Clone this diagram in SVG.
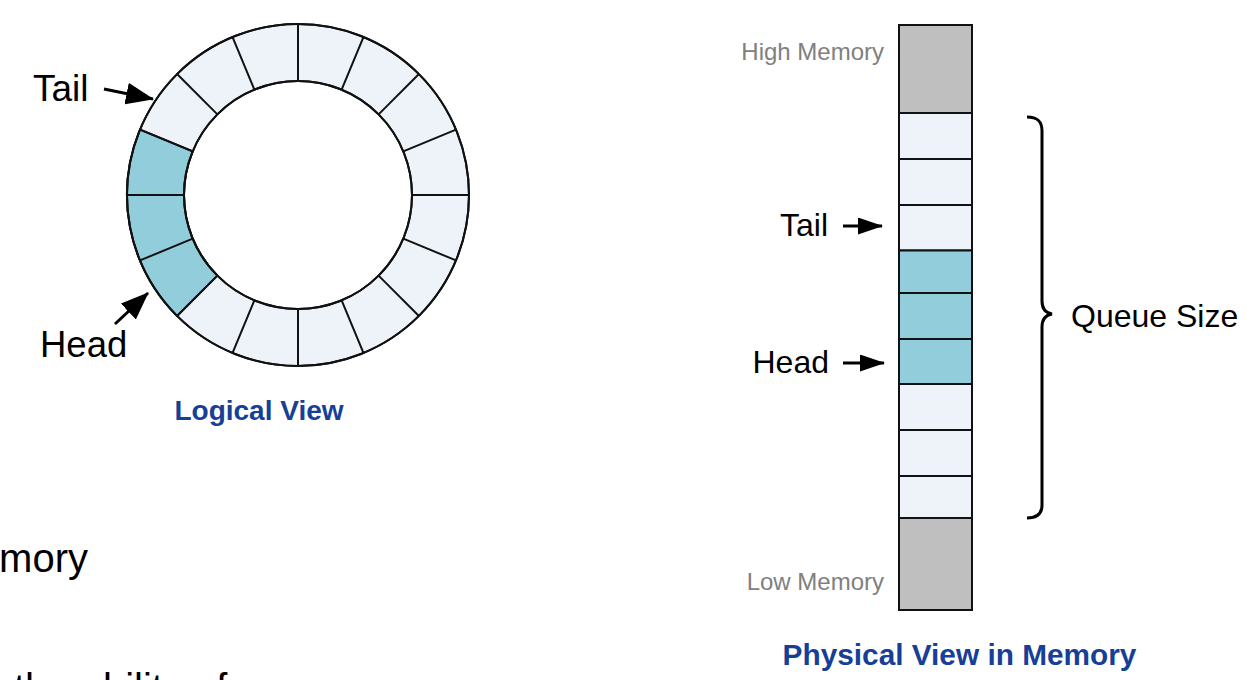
<svg xmlns="http://www.w3.org/2000/svg" width="1247" height="680" viewBox="0 0 1247 680">
<style>
  .lbl{font-family:"Liberation Sans",Arial,sans-serif;fill:#000}
  .mem{font-family:"Liberation Sans",Arial,sans-serif;fill:#808080;font-size:24px}
  .title{font-family:"Liberation Sans",Arial,sans-serif;fill:#173F97;font-weight:bold}
  .body{font-family:"Liberation Sans",Arial,sans-serif;fill:#000;font-size:40px}
  .light{fill:#EEF3FA;stroke:#111;stroke-width:2}
  .teal{fill:#92CDDC;stroke:#111;stroke-width:2}
  .grey{fill:#BFBFBF;stroke:#111;stroke-width:2}
  .div{stroke:#111;stroke-width:2;fill:none}
  .arr{stroke:#000;stroke-width:3;fill:none}
</style>
<defs>
  <marker id="ahBig" markerUnits="userSpaceOnUse" markerWidth="28" markerHeight="22" refX="27" refY="11" orient="auto">
    <path d="M0,0 L28,11 L0,22 Z" fill="#000"/>
  </marker>
  <marker id="ahSmall" markerUnits="userSpaceOnUse" markerWidth="25" markerHeight="17" refX="24" refY="8.5" orient="auto">
    <path d="M0,0 L25,8.5 L0,17 Z" fill="#000"/>
  </marker>
</defs>

<g id="ring">
  <path class="light" fill-rule="evenodd" d="M127,195 a171,171 0 1,0 342,0 a171,171 0 1,0 -342,0 Z M184,195 a114,114 0 1,0 228,0 a114,114 0 1,0 -228,0 Z"/>
  <path class="teal" d="M140.02,129.56 A171,171 0 0 0 177.08,315.92 L217.39,275.61 A114,114 0 0 1 192.68,151.37 Z"/>
  <g class="div">
    <line x1="412" y1="195" x2="469" y2="195"/>
    <line x1="403.32" y1="151.37" x2="455.98" y2="129.56"/>
    <line x1="378.61" y1="114.39" x2="418.92" y2="74.08"/>
    <line x1="341.63" y1="89.68" x2="363.44" y2="37.02"/>
    <line x1="298" y1="81" x2="298" y2="24"/>
    <line x1="254.37" y1="89.68" x2="232.56" y2="37.02"/>
    <line x1="217.39" y1="114.39" x2="177.08" y2="74.08"/>
    <line x1="192.68" y1="151.37" x2="140.02" y2="129.56"/>
    <line x1="184" y1="195" x2="127" y2="195"/>
    <line x1="192.68" y1="238.63" x2="140.02" y2="260.44"/>
    <line x1="217.39" y1="275.61" x2="177.08" y2="315.92"/>
    <line x1="254.37" y1="300.32" x2="232.56" y2="352.98"/>
    <line x1="298" y1="309" x2="298" y2="366"/>
    <line x1="341.63" y1="300.32" x2="363.44" y2="352.98"/>
    <line x1="378.61" y1="275.61" x2="418.92" y2="315.92"/>
    <line x1="403.32" y1="238.63" x2="455.98" y2="260.44"/>
    <circle cx="298" cy="195" r="171"/>
    <circle cx="298" cy="195" r="114"/>
  </g>
</g>

<g id="logical-labels">
  <text class="lbl" x="33" y="101" font-size="37">Tail</text>
  <text class="lbl" x="40" y="357" font-size="36.5">Head</text>
  <text class="title" x="259" y="420" font-size="28" text-anchor="middle">Logical View</text>
</g>

<g id="memory-column">
  <rect class="grey" x="899" y="25" width="73" height="88"/>
  <rect class="light" x="899" y="113" width="73" height="46"/>
  <rect class="light" x="899" y="159" width="73" height="46"/>
  <rect class="light" x="899" y="205" width="73" height="45.5"/>
  <rect class="teal" x="899" y="250.5" width="73" height="42.5"/>
  <rect class="teal" x="899" y="293" width="73" height="46"/>
  <rect class="teal" x="899" y="339" width="73" height="45"/>
  <rect class="light" x="899" y="384" width="73" height="46"/>
  <rect class="light" x="899" y="430" width="73" height="46"/>
  <rect class="light" x="899" y="476" width="73" height="42"/>
  <rect class="grey" x="899" y="518" width="73" height="92"/>
</g>

<g id="physical-labels">
  <text class="mem" x="884" y="60" text-anchor="end">High Memory</text>
  <text class="mem" x="884" y="590" text-anchor="end">Low Memory</text>
  <text class="lbl" x="828" y="236" font-size="32" text-anchor="end">Tail</text>
  <text class="lbl" x="829" y="373" font-size="32" text-anchor="end">Head</text>
  <text class="lbl" x="1071" y="327" font-size="32">Queue Size</text>
  <text class="title" x="959.5" y="665" font-size="29.8" text-anchor="middle">Physical View in Memory</text>
</g>

<g id="brace">
  <path class="arr" d="M1027,117 C1037,117 1042,121 1042,131 L1042,301 C1042,309 1046,313 1052,314 C1046,315 1042,319 1042,327 L1042,505 C1042,514 1037,518 1027,518"/>
</g>

<g id="connectors">
  <line class="arr" x1="104" y1="89" x2="153" y2="99" marker-end="url(#ahBig)"/>
  <line class="arr" x1="115" y1="324" x2="148" y2="293" marker-end="url(#ahBig)"/>
  <line class="arr" x1="843" y1="226" x2="882" y2="226" marker-end="url(#ahSmall)"/>
  <line class="arr" x1="843" y1="363" x2="884" y2="363" marker-end="url(#ahSmall)"/>
</g>

<g id="body-text">
  <text class="body" x="88" y="572" text-anchor="end">mory</text>
  <text class="body" x="14" y="702">the ability of</text>
</g>
</svg>
